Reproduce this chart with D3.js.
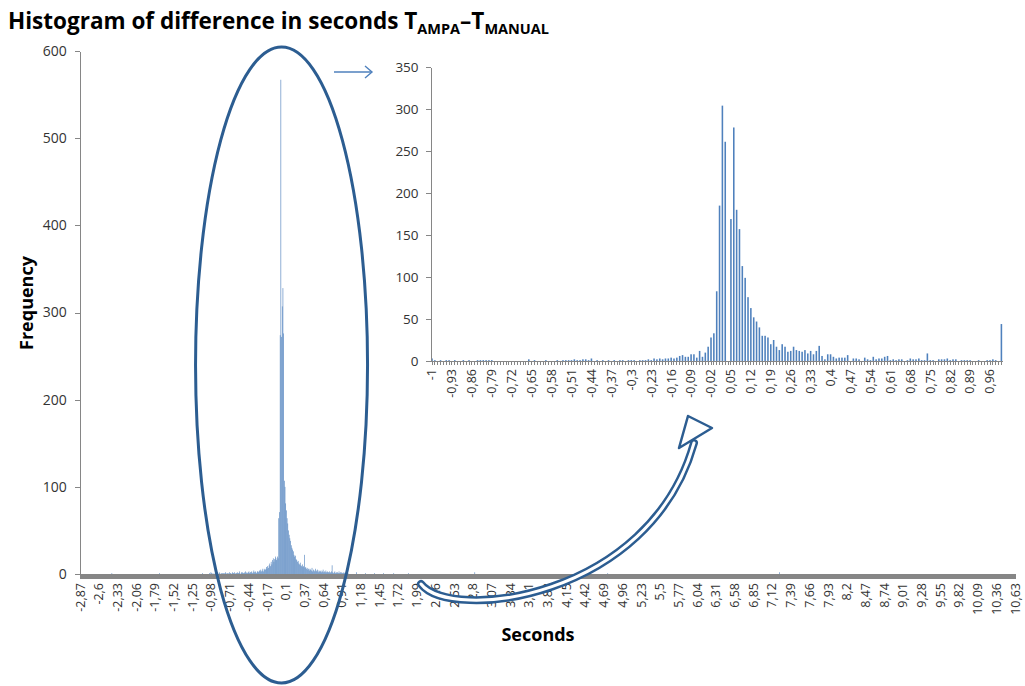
<!DOCTYPE html>
<html>
<head>
<meta charset="utf-8">
<script src="https://cdn.jsdelivr.net/npm/d3@7"></script>
<style>
  body { margin: 0; background: #fff; }
  svg text { font-family: "Open Sans", "Noto Sans", sans-serif; }
  .axis path, .axis line { stroke: #868686; shape-rendering: crispEdges; }
  .axis text { fill: #333; }
</style>
</head>
<body>
<div id="chart"></div>
<script>
// --- Data ---
// bins are 0.01 s wide, keys kept in hundredths of a second
const mainBinStart = -287;   // -2.87
const mainBinEnd = 1063;     // 10.63
const mainLabelStep = 27;    // every 27th bin gets a label
const mainYTicks = [0, 100, 200, 300, 400, 500, 600];

// main histogram counts from -1.00 to 1.00
const mainCore = [
  1, 0, 2, 1, 0, 1, 0, 0, 1, 2,
  0, 1, 1, 0, 2, 1, 0, 1, 0, 1,
  1, 0, 1, 2, 1, 0, 1, 1, 0, 2,
  1, 1, 0, 2, 1, 1, 2, 0, 1, 1,
  2, 1, 1, 3, 1, 0, 2, 1, 2, 1,
  1, 2, 3, 1, 2, 1, 2, 3, 1, 2,
  2, 3, 1, 2, 4, 2, 3, 2, 1, 3,
  3, 2, 4, 3, 5, 3, 4, 6, 3, 5,
  6, 5, 8, 6, 9, 7, 10, 12, 9, 14,
  11, 16, 18, 14, 17, 20, 18, 16, 20, 18,
  64, 71, 274, 567, 272, 307, 328, 276, 107, 100,
  81, 73, 64, 58, 50, 45, 41, 38, 33, 30,
  28, 26, 22, 20, 21, 17, 16, 14, 15, 12,
  11, 13, 10, 9, 11, 8, 9, 22, 7, 8,
  6, 7, 5, 6, 4, 6, 5, 4, 7, 3,
  5, 4, 3, 6, 4, 3, 5, 2, 4, 3,
  3, 4, 2, 3, 5, 2, 3, 2, 4, 2,
  3, 2, 2, 3, 1, 2, 3, 10, 2, 1,
  2, 3, 1, 2, 1, 2, 1, 3, 1, 2,
  1, 2, 1, 1, 2, 1, 0, 1, 2, 1,
  1
];
// scattered counts outside the -1..1 window: [hundredths, count]
const mainOutliers = [
  [-241, 1], [-172, 1], [-110, 1], [112, 2], [125, 1], [138, 1], [151, 1],
  [166, 1], [187, 1], [283, 2], [450, 2], [475, 1], [723, 2]
];

const insetBinStart = -100;  // -1.00
const insetBinEnd = 100;     // 1.00
const insetLabelStep = 7;
const insetYTicks = [0, 50, 100, 150, 200, 250, 300, 350];

// zoomed histogram counts from -1.00 to 1.00
const insetCounts = [
  3, 1, 0, 1, 0, 1, 1, 0, 1, 0,
  0, 1, 0, 1, 0, 0, 1, 1, 1, 1,
  1, 1, 0, 0, 0, 0, 0, 0, 0, 0,
  0, 0, 0, 0, 2, 0, 1, 0, 0, 0,
  1, 0, 0, 0, 1, 0, 1, 1, 1, 1,
  2, 1, 1, 2, 2, 1, 3, 0, 1, 0,
  1, 0, 1, 0, 1, 0, 1, 1, 0, 1,
  1, 1, 0, 1, 1, 1, 2, 1, 3, 2,
  3, 2, 3, 3, 4, 3, 4, 6, 7, 5,
  5, 8, 8, 4, 12, 5, 10, 17, 28, 33,
  83, 185, 304, 261, 0, 169, 278, 180, 157, 113,
  99, 76, 63, 52, 47, 40, 30, 30, 28, 20,
  25, 17, 13, 20, 17, 11, 12, 17, 13, 12,
  11, 13, 9, 12, 8, 12, 18, 6, 2, 8,
  8, 5, 3, 4, 4, 4, 7, 0, 3, 3,
  2, 0, 4, 2, 1, 5, 2, 3, 3, 5,
  6, 1, 2, 1, 2, 2, 0, 1, 3, 2,
  2, 3, 1, 1, 9, 1, 1, 0, 2, 2,
  2, 3, 1, 2, 2, 0, 1, 1, 1, 1,
  0, 0, 1, 0, 0, 1, 1, 2, 1, 0,
  44
];

// --- Helpers ---
const fmt = k => String(+(k / 100).toFixed(2)).replace('.', ',');
const barColor = '#4f81bd';
const annotColor = '#2c5d91';

const mainKeys = d3.range(mainBinStart, mainBinEnd + 1);
const outlierMap = new Map(mainOutliers);
const mainData = mainKeys.map(k => ({
  key: k,
  count: (k >= -100 && k <= 100) ? mainCore[k + 100] : (outlierMap.get(k) || 0)
}));

const insetKeys = d3.range(insetBinStart, insetBinEnd + 1);
const insetData = insetKeys.map((k, i) => ({ key: k, count: insetCounts[i] }));

const width = 1025, height = 686;

const svg = d3.select('#chart')
  .append('svg')
  .attr('width', width)
  .attr('height', height);

// --- Main chart scales ---
const mLeft = 80, mRight = 1015;
const mStep = (mRight - mLeft) / (mainKeys.length - 1);
const xMain = d3.scaleBand()
  .domain(mainKeys)
  .range([mLeft - mStep / 2, mRight + mStep / 2])
  .paddingInner(0.1)
  .paddingOuter(0.05);

const yMain = d3.scaleLinear()
  .domain([0, 600])
  .range([574, 51]);

// --- Main bars ---
svg.append('g')
  .attr('class', 'bars')
  .selectAll('rect')
  .data(mainData.filter(d => d.count > 0))
  .enter().append('rect')
  .attr('x', d => xMain(d.key))
  .attr('y', d => yMain(d.count))
  .attr('width', xMain.bandwidth())
  .attr('height', d => yMain(0) - yMain(d.count))
  .attr('fill', barColor);

// --- Main axes ---
svg.append('g')
  .attr('class', 'axis axis--y')
  .attr('transform', `translate(${mLeft - mStep / 2}, 0)`)
  .call(d3.axisLeft(yMain).tickValues(mainYTicks).tickSize(5).tickSizeOuter(0).tickPadding(8))
  .selectAll('text')
  .style('font-size', '14px');

const xAxisMain = svg.append('g')
  .attr('class', 'axis axis--x')
  .attr('transform', `translate(0, ${yMain(0)})`)
  .call(d3.axisBottom(xMain)
    .tickSize(5)
    .tickSizeOuter(0)
    .tickFormat((k, i) => i % mainLabelStep === 0 ? fmt(k) : ''));

xAxisMain.selectAll('line').attr('stroke-width', 1);
xAxisMain.select('.domain').attr('stroke-width', 2);
xAxisMain.selectAll('text')
  .attr('transform', 'rotate(-90)')
  .attr('x', -9)
  .attr('y', 0)
  .attr('dy', '0.35em')
  .style('text-anchor', 'end')
  .style('font-size', '12.5px');

// --- Inset chart ---
const iLeft = 432, iRight = 1001.4;
const iStep = (iRight - iLeft) / (insetKeys.length - 1);
const xInset = d3.scaleBand()
  .domain(insetKeys)
  .range([iLeft - iStep / 2, iRight + iStep / 2])
  .paddingInner(0.45)
  .paddingOuter(0.225);

const yInset = d3.scaleLinear()
  .domain([0, 350])
  .range([361, 67]);

svg.append('g')
  .attr('class', 'inset-bars')
  .selectAll('rect')
  .data(insetData.filter(d => d.count > 0))
  .enter().append('rect')
  .attr('x', d => xInset(d.key))
  .attr('y', d => yInset(d.count))
  .attr('width', xInset.bandwidth())
  .attr('height', d => yInset(0) - yInset(d.count))
  .attr('fill', barColor);

svg.append('g')
  .attr('class', 'axis axis--y')
  .attr('transform', `translate(${iLeft - iStep / 2}, 0)`)
  .call(d3.axisLeft(yInset).tickValues(insetYTicks).tickSize(5).tickSizeOuter(0).tickPadding(7))
  .selectAll('text')
  .style('font-size', '13.5px');

const xAxisInset = svg.append('g')
  .attr('class', 'axis axis--x')
  .attr('transform', `translate(0, ${yInset(0)})`)
  .call(d3.axisBottom(xInset)
    .tickSize(4)
    .tickSizeOuter(0)
    .tickFormat((k, i) => i % insetLabelStep === 0 ? fmt(k) : ''));

xAxisInset.selectAll('text')
  .attr('transform', 'rotate(-90)')
  .attr('x', -8)
  .attr('y', 0)
  .attr('dy', '0.35em')
  .style('text-anchor', 'end')
  .style('font-size', '12.5px');

// --- Titles ---
const title = svg.append('text')
  .attr('x', 8)
  .attr('y', 29)
  .style('font-weight', 'bold')
  .style('font-size', '22.5px')
  .attr('fill', '#000');
title.append('tspan').text('Histogram of difference in seconds T');
title.append('tspan').attr('dy', 5).style('font-size', '14.5px').text('AMPA');
title.append('tspan').attr('dy', -5).text('–T');
title.append('tspan').attr('dy', 5).style('font-size', '14.5px').text('MANUAL');

svg.append('text')
  .attr('transform', 'translate(33, 303) rotate(-90)')
  .attr('text-anchor', 'middle')
  .style('font-weight', 'bold')
  .style('font-size', '18px')
  .text('Frequency');

svg.append('text')
  .attr('x', 538)
  .attr('y', 641)
  .attr('text-anchor', 'middle')
  .style('font-weight', 'bold')
  .style('font-size', '18px')
  .text('Seconds');

// --- Annotations ---
// ellipse round the peak of the main histogram
svg.append('ellipse')
  .attr('cx', xMain(3) + 1)
  .attr('cy', 365)
  .attr('rx', 86)
  .attr('ry', 318)
  .attr('fill', 'none')
  .attr('stroke', annotColor)
  .attr('stroke-width', 3);

// small arrow to the inset
const arrow = svg.append('g')
  .attr('stroke', barColor)
  .attr('stroke-width', 1.4)
  .attr('fill', 'none');
arrow.append('line').attr('x1', 334).attr('y1', 72).attr('x2', 372).attr('y2', 72);
arrow.append('path').attr('d', 'M365,66 L372,72 L365,78');

// curved block arrow
const curve = 'M421,584 C450,622 650,600 694,443';
svg.append('path')
  .attr('d', curve)
  .attr('fill', 'none')
  .attr('stroke', annotColor)
  .attr('stroke-width', 8)
  .attr('stroke-linecap', 'round');
svg.append('path')
  .attr('d', curve)
  .attr('fill', 'none')
  .attr('stroke', '#fff')
  .attr('stroke-width', 3)
  .attr('stroke-linecap', 'round');
svg.append('path')
  .attr('d', 'M688,416 L712,428 L679,448 Z')
  .attr('fill', '#fff')
  .attr('stroke', annotColor)
  .attr('stroke-width', 2.5)
  .attr('stroke-linejoin', 'round');
</script>
</body>
</html>
